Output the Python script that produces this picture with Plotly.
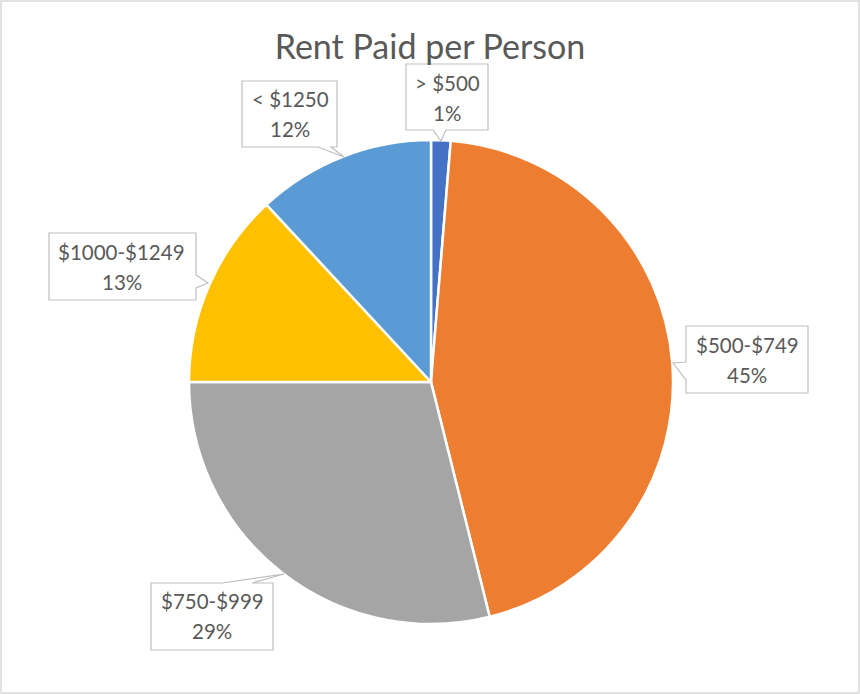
import plotly.graph_objects as go

categories = ["> $500", "$500-$749", "$750-$999", "$1000-$1249", "< $1250"]
shares = [1.3, 44.8, 28.9, 13.1, 11.9]
colors = ["#4472C4", "#ED7D31", "#A5A5A5", "#FFC000", "#5B9BD5"]

W, H = 860, 694

def px(x):
    return x / W

def py(y):
    return 1 - y / H

fig = go.Figure(go.Pie(
    labels=categories, values=shares, sort=False, direction="clockwise", rotation=0,
    marker=dict(colors=colors, line=dict(color="white", width=2.5)),
    textinfo="none", hoverinfo="label+percent", showlegend=False,
    domain=dict(x=[px(431 - 242), px(431 + 242)], y=[py(624), py(140)]),
))

# callout boxes (pixel polygons)
callouts = [
    [(406, 64), (488, 64), (488, 130), (446, 130), (441, 141), (433, 130), (406, 130)],
    [(686, 326), (808, 326), (808, 393), (686, 393), (686, 380), (673, 363), (686, 362)],
    [(151, 583), (222, 583), (284, 574), (252, 583), (273, 583), (273, 650), (151, 650)],
    [(49, 233), (196, 233), (196, 275), (208, 283), (196, 288), (196, 300), (49, 300)],
    [(242, 81), (337, 81), (337, 147), (331, 147), (344, 157), (318, 147), (242, 147)],
]
centers = [(447, 98), (747, 360), (212, 616), (122, 267), (290, 114)]

shapes = [dict(type="rect", xref="paper", yref="paper", x0=px(1), x1=px(859), y0=py(693), y1=py(1),
               line=dict(color="#D9D9D9", width=1.5), fillcolor="rgba(0,0,0,0)", layer="below")]
for poly in callouts:
    path = "M " + " L ".join(f"{px(x):.5f},{py(y):.5f}" for x, y in poly) + " Z"
    shapes.append(dict(type="path", xref="paper", yref="paper", path=path,
                       line=dict(color="#BFBFBF", width=1.2), fillcolor="white", layer="above"))

FONT = "Lato, 'Open Sans', sans-serif"
annotations = []
total = sum(shares)
for cat, v, (cx, cy) in zip(categories, shares, centers):
    annotations.append(dict(x=px(cx), y=py(cy - 15), xref="paper", yref="paper", text=cat,
                            showarrow=False, xanchor="center", yanchor="middle",
                            font=dict(family=FONT, size=20.5, color="#595959")))
    annotations.append(dict(x=px(cx), y=py(cy + 15), xref="paper", yref="paper", text=f"{round(v / total * 100)}%",
                            showarrow=False, xanchor="center", yanchor="middle",
                            font=dict(family=FONT, size=20.5, color="#595959")))

fig.update_layout(
    width=W, height=H, margin=dict(l=0, r=0, t=0, b=0),
    paper_bgcolor="white", plot_bgcolor="white",
    title=dict(text="Rent Paid per Person", x=0.5, xanchor="center", y=py(47), yanchor="middle",
               font=dict(family=FONT, size=34, color="#595959")),
    shapes=shapes, annotations=annotations,
)

fig.write_html("out.html", config={"displayModeBar": False},
               post_script="document.body.style.margin='0px';")
